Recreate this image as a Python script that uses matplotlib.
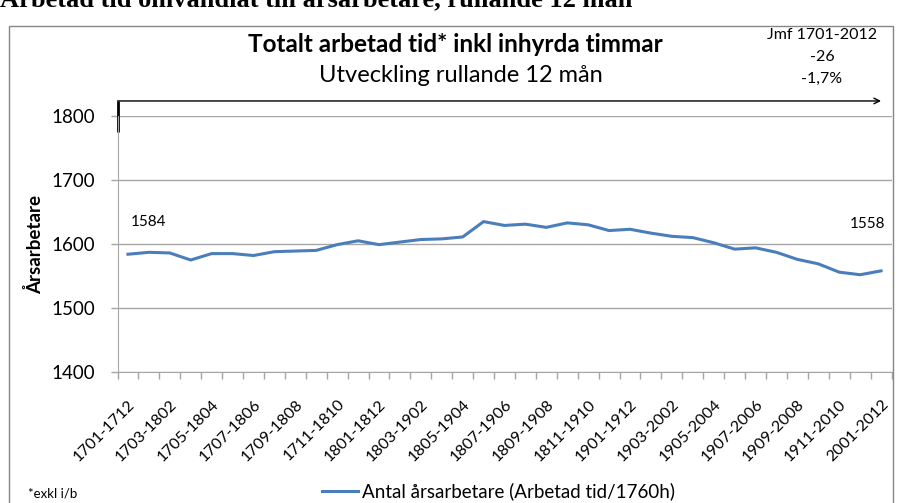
import matplotlib
matplotlib.use("Agg")
import matplotlib.pyplot as plt
from matplotlib.patches import Rectangle

# Rolling 12-month periods (YYMM-YYMM)
periods = [
    "1701-1712", "1702-1801", "1703-1802", "1704-1803", "1705-1804", "1706-1805",
    "1707-1806", "1708-1807", "1709-1808", "1710-1809", "1711-1810", "1712-1811",
    "1801-1812", "1802-1901", "1803-1902", "1804-1903", "1805-1904", "1806-1905",
    "1807-1906", "1808-1907", "1809-1908", "1810-1909", "1811-1910", "1812-1911",
    "1901-1912", "1902-2001", "1903-2002", "1904-2003", "1905-2004", "1906-2005",
    "1907-2006", "1908-2007", "1909-2008", "1910-2009", "1911-2010", "1912-2011",
    "2001-2012",
]

# Antal årsarbetare (arbetad tid / 1760h)
arsarbetare = [
    1584, 1587, 1586, 1575, 1585, 1585, 1582, 1588, 1589, 1590,
    1599, 1605, 1599, 1603, 1607, 1608, 1611, 1635, 1629, 1631,
    1626, 1633, 1630, 1621, 1623, 1617, 1612, 1610, 1602, 1592,
    1594, 1587, 1576, 1569, 1556, 1552, 1558,
]

y_ticks = [1400, 1500, 1600, 1700, 1800]

FONT = "Lato"
LINE_BLUE = "#4A7EBB"
GRID_GRAY = "#A6A6A6"

fig = plt.figure(figsize=(8.98, 5.03), dpi=100)
W, H = 898, 503

# chart frame
frame_top = 26
fig.patches.append(Rectangle((9 / W, -0.05), (893 - 9) / W, 1.05 - frame_top / H,
                             transform=fig.transFigure, fill=False,
                             edgecolor="#868686", linewidth=1.0))

fig.text(0.0, 1 - 6 / H, "Arbetad tid omvandlat till årsarbetare, rullande 12 mån",
         family="Liberation Serif", weight="bold", fontsize=19,
         ha="left", va="baseline")

ax = fig.add_axes([117.5 / W, 1 - 372 / H, 774 / W, 256 / H])
x = list(range(len(periods)))
ax.plot(x, arsarbetare, color=LINE_BLUE, linewidth=2.2, solid_joinstyle="round")

ax.set_xlim(-0.5, len(periods) - 0.5)
ax.set_ylim(1400, 1800)
ax.set_yticks(y_ticks)
ax.set_yticklabels([str(v) for v in y_ticks], family=FONT, fontsize=13.5)
ax.yaxis.grid(True, color=GRID_GRAY, linewidth=1.0)
ax.set_axisbelow(True)

# category tick marks on boundaries, labels on every other category
ax.set_xticks([i - 0.5 for i in range(len(periods) + 1)])
ax.set_xticklabels([])
ax.set_xticks(x[::2], minor=True)
ax.set_xticklabels(periods[::2], minor=True, rotation=45, ha="right", va="top",
                   rotation_mode="anchor", family=FONT, fontsize=11.5)
ax.tick_params(axis="x", which="major", length=5, color=GRID_GRAY, width=1)
ax.tick_params(axis="x", which="minor", length=0, pad=18)
ax.tick_params(axis="y", length=5, color=GRID_GRAY, width=1, pad=11)

for side in ("top", "right"):
    ax.spines[side].set_visible(False)
ax.spines["left"].set_color(GRID_GRAY)
ax.spines["bottom"].set_color(GRID_GRAY)

ax.set_ylabel("Årsarbetare", family=FONT, weight="bold", fontsize=13.5)
ax.yaxis.set_label_coords((44 - 117.5) / 774, 0.5)

# first / last value labels
ax.annotate(str(arsarbetare[0]), (0, arsarbetare[0]), xytext=(2, 23),
            textcoords="offset points", ha="left", va="center",
            family=FONT, fontsize=11)
ax.annotate(str(arsarbetare[-1]), (len(periods) - 1, arsarbetare[-1]), xytext=(3, 34),
            textcoords="offset points", ha="right", va="center",
            family=FONT, fontsize=11)

# development arrow over the period
ax.annotate("", xy=(len(periods) - 1, 1823.5), xytext=(-0.5, 1823.5),
            arrowprops=dict(arrowstyle="->", color="black", linewidth=1.0,
                            shrinkA=0, shrinkB=0), annotation_clip=False)
ax.plot([-0.5, -0.5], [1823.5, 1775], color="black", linewidth=2.0,
        clip_on=False, solid_capstyle="butt")

fig.text(455 / W, 1 - 45 / H, "Totalt arbetad tid* inkl inhyrda timmar",
         family=FONT, weight="bold", fontsize=17.5, ha="center", va="center")
fig.text(461 / W, 1 - 75 / H, "Utveckling rullande 12 mån",
         family=FONT, fontsize=17, ha="center", va="center")

for txt, yy in (("Jmf 1701-2012", 35), ("-26", 57), ("-1,7%", 79)):
    fig.text(822 / W, 1 - yy / H, txt, family=FONT, fontsize=11.5,
             ha="center", va="center")

# legend
fig.lines.append(plt.Line2D([322 / W, 358 / W], [1 - 491 / H, 1 - 491 / H],
                            transform=fig.transFigure, color=LINE_BLUE,
                            linewidth=2.2))
fig.text(362 / W, 1 - 491 / H, "Antal årsarbetare (Arbetad tid/1760h)",
         family=FONT, fontsize=13.5, ha="left", va="center")
fig.text(28 / W, 1 - 494 / H, "*exkl i/b", family=FONT, fontsize=9.5,
         ha="left", va="center")

fig.savefig("out.png", dpi=100)
